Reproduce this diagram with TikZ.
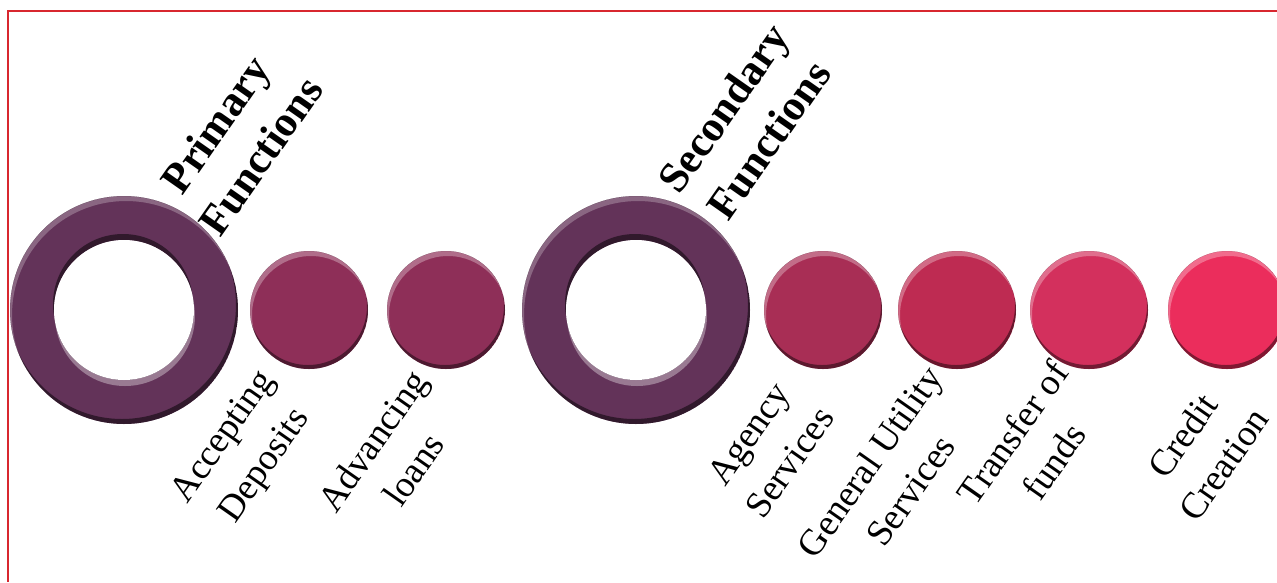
\documentclass[tikz,border=0pt]{standalone}
\usepackage{fontspec}
\setmainfont{Liberation Serif}
\definecolor{framered}{HTML}{D8272F}
\definecolor{ringc}{HTML}{633359}
\definecolor{cA}{HTML}{8E2F58}
\definecolor{cB}{HTML}{A82E55}
\definecolor{cC}{HTML}{BE2B52}
\definecolor{cD}{HTML}{D3305D}
\definecolor{cE}{HTML}{EB2D5C}
\tikzset{
  lbl/.style={rotate=55, align=center, font=\fontsize{37}{50}\selectfont, text=black, inner sep=0pt},
  hdr/.style={rotate=55, align=center, font=\fontsize{43}{55}\selectfont\bfseries, text=black, inner sep=0pt},
  ballnode/.style={circle, minimum size=118pt, inner sep=0pt, fill=#1},
  ringnode/.style={circle, minimum size=228pt, inner sep=0pt},
}
\newcommand\myball[4]{%
  \node[ballnode=#4] (#1) at (#2,#3) {};
  \begin{scope}
    \clip (#2,#3) circle (59);
    \fill[white, opacity=.3, even odd rule] (#2,#3) circle (59) (#2+2,#3+5) circle (59);
    \fill[black, opacity=.45, even odd rule] (#2,#3) circle (59) (#2-1,#3-4) circle (59);
  \end{scope}}
\newcommand\myring[3]{%
  \node[ringnode] (#1) at (#2,#3) {};
  \fill[ringc] (#2,#3) circle (114);
  \begin{scope}
    \clip (#2,#3) circle (114);
    \fill[white, opacity=.25, even odd rule] (#2,#3) circle (114) (#2+2,#3+5) circle (114);
    \fill[black, opacity=.5, even odd rule] (#2,#3) circle (114) (#2-2,#3-5) circle (114);
  \end{scope}
  \fill[black, opacity=.5, even odd rule] (#2,#3) circle (70) (#2-1,#3-6) circle (70);
  \fill[white, opacity=.35, even odd rule] (#2,#3) circle (70) (#2+1,#3+6) circle (70);
  \fill[white] (#2,#3) circle (70);}
\begin{document}
\begin{tikzpicture}[x=1pt, y=-1pt]
  \useasboundingbox (0,0) rectangle (1277,582);
  \fill[white] (0,0) rectangle (1277,582);
  \coordinate (ftl) at (8,11);
  \coordinate (ftr) at (1277,11);
  \coordinate (fbl) at (8,582);
  \draw[framered, line width=2.2pt] (ftr) -- (ftl) -- (fbl);

  \myring{r1}{124}{310}
  \myball{b1}{309}{310}{cA}
  \myball{b2}{446}{310}{cA}
  \myring{r2}{636}{310}
  \myball{b3}{823}{310}{cB}
  \myball{b4}{957}{310}{cC}
  \myball{b5}{1089}{310}{cD}
  \myball{b6}{1227}{310}{cE}

  \node[hdr] (h1) at (238,140) {Primary\\Functions};
  \node[hdr] (h2) at (746,124) {Secondary\\Functions};

  \node[lbl] (l1) at (245,452) {Accepting\\Deposits};
  \node[lbl] (l2) at (393,455) {Advancing\\loans};
  \node[lbl] (l3) at (769,448) {Agency\\Services};
  \node[lbl] (l4) at (890,476) {General Utility\\Services};
  \node[lbl] (l5) at (1033,447) {Transfer of\\funds};
  \node[lbl] (l6) at (1203,450) {Credit\\Creation};
\end{tikzpicture}
\end{document}
